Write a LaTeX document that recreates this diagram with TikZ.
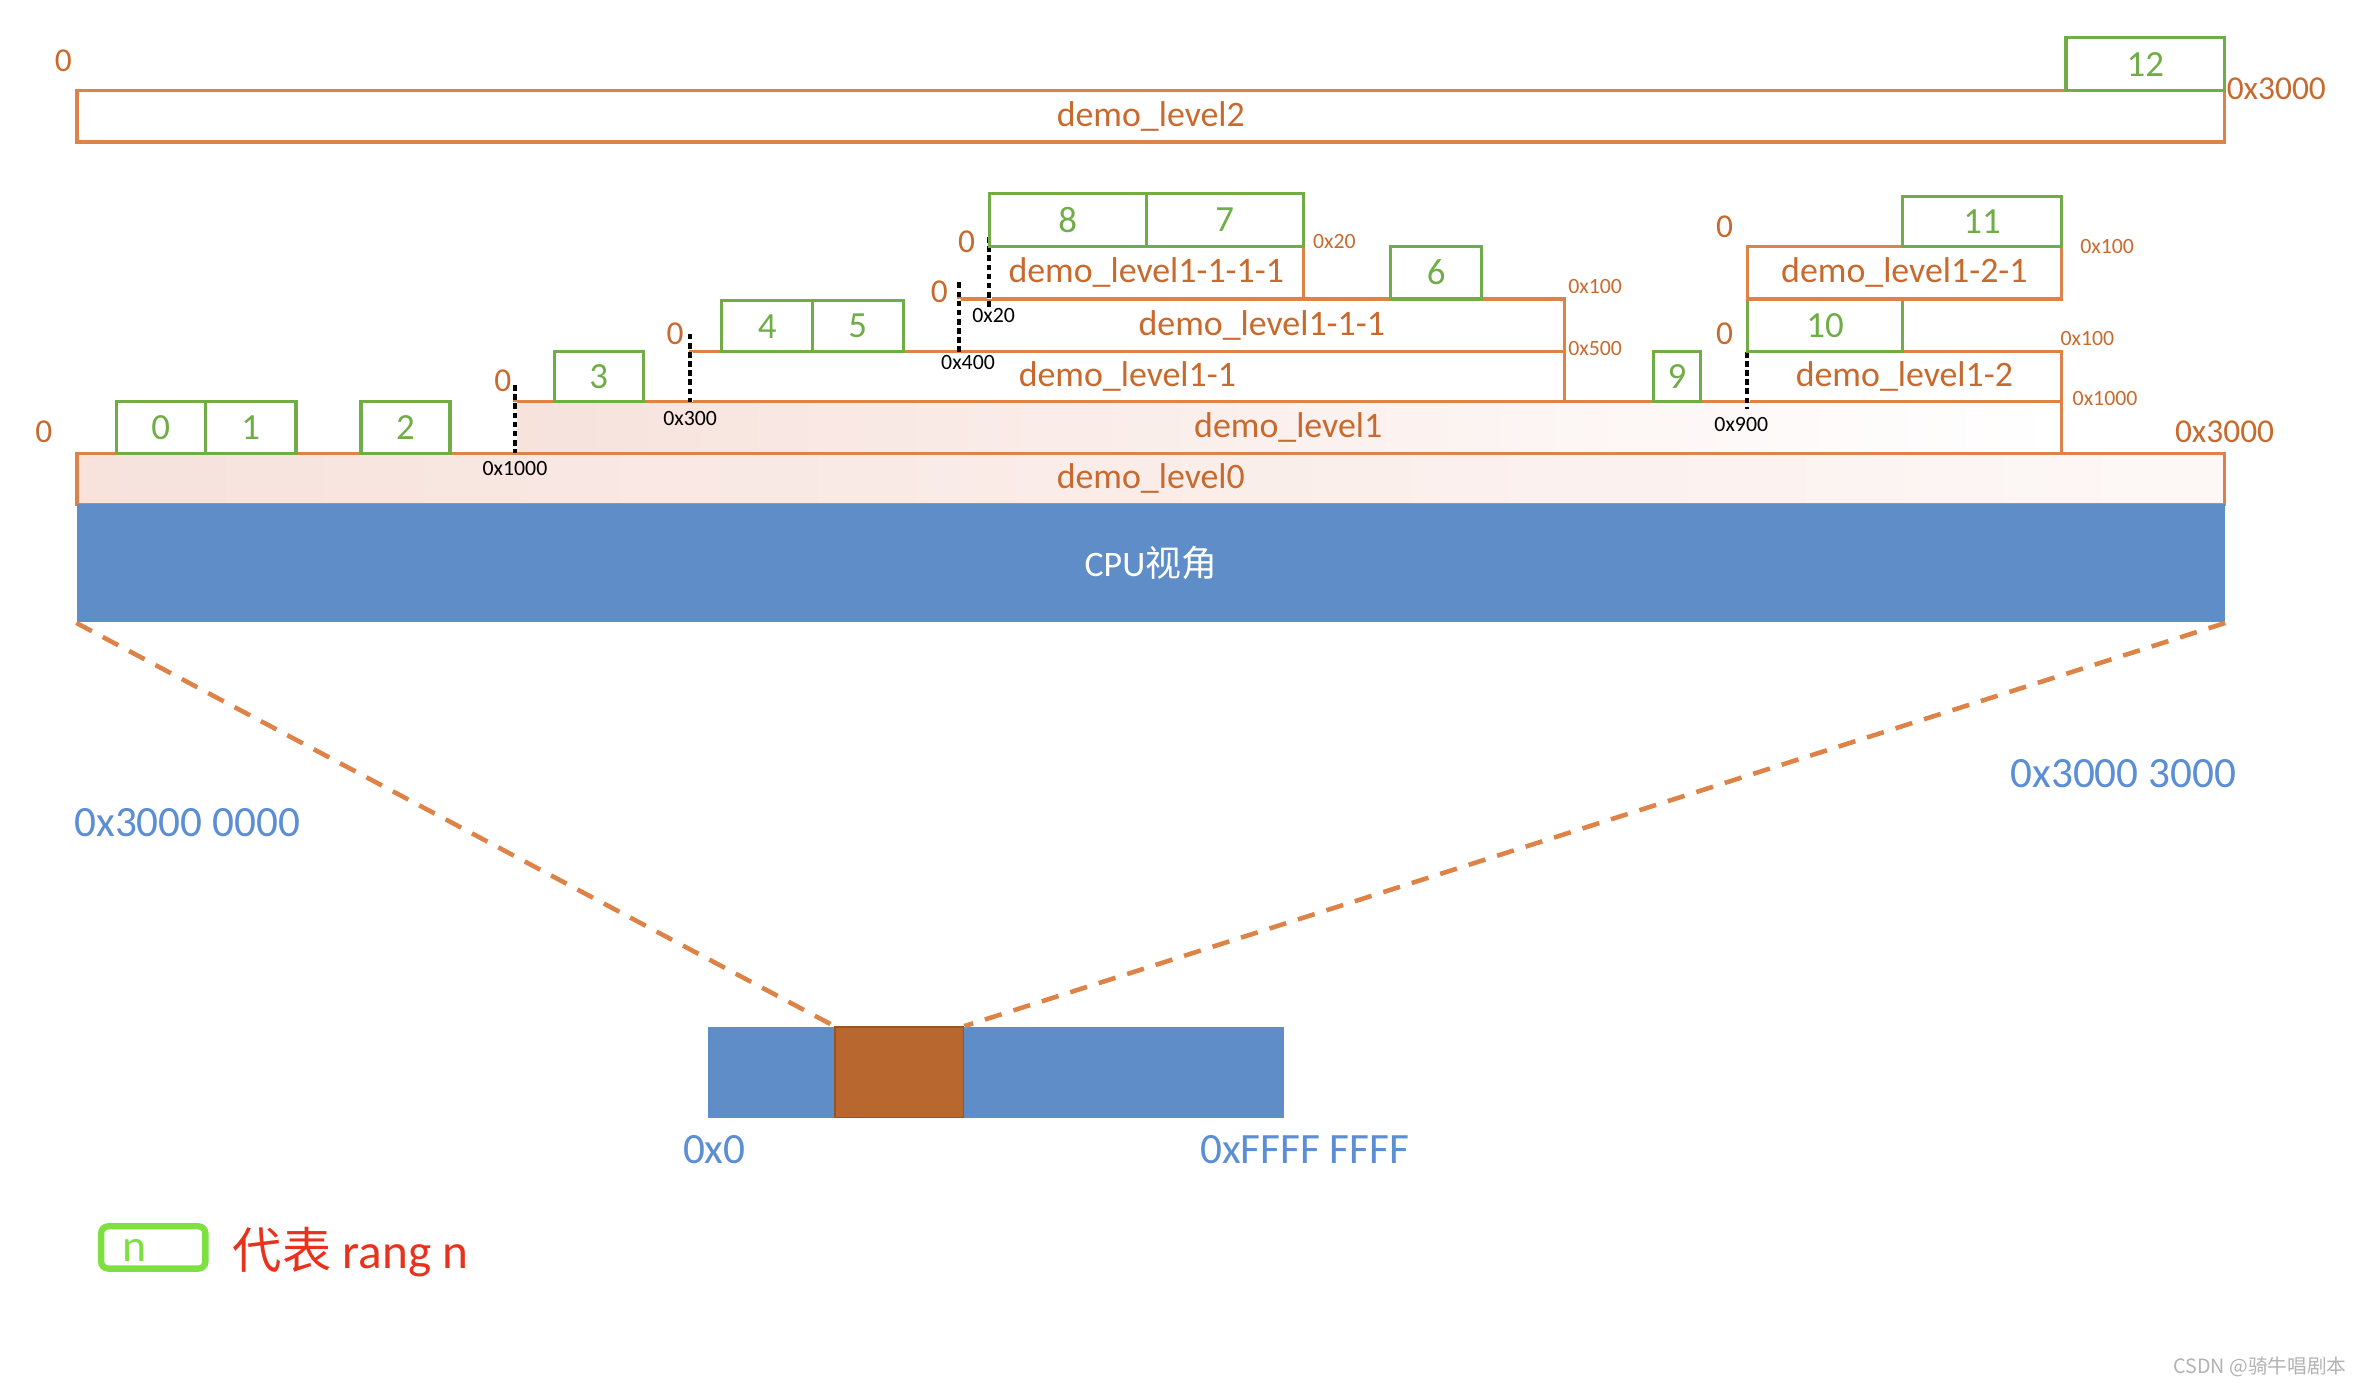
\documentclass[tikz,border=0pt]{standalone}
\usepackage{fontspec}
\setmainfont{Carlito}
\newfontfamily\cjkfont{Noto Sans CJK SC}
\usetikzlibrary{fit}

\definecolor{lvlline}{RGB}{222,131,72}
\definecolor{lvltext}{RGB}{200,105,45}
\definecolor{rnggreen}{RGB}{112,173,71}
\definecolor{cpublue}{RGB}{95,141,200}
\definecolor{addrblue}{RGB}{91,142,212}
\definecolor{blkbrown}{RGB}{184,104,47}
\definecolor{blkedge}{RGB}{150,85,40}
\definecolor{pinkfill}{RGB}{247,226,220}
\definecolor{keygreen}{RGB}{126,224,64}
\definecolor{keyred}{RGB}{232,50,30}

\begin{document}
\begin{tikzpicture}[x=0.15102mm,y=-0.15102mm,
    lvl/.style={draw=lvlline,line width=0.9pt,inner sep=0pt},
    lvlname/.style={text=lvltext,font=\fontsize{10.2}{12}\selectfont,inner sep=0pt},
    rng/.style={draw=rnggreen,line width=0.9pt,inner sep=0pt},
    rngname/.style={text=rnggreen,font=\fontsize{10.5}{12}\selectfont,inner sep=0pt},
    zero/.style={text=lvltext,font=\fontsize{9.5}{11}\selectfont,inner sep=0pt},
    endaddr/.style={text=lvltext,font=\fontsize{6.2}{7}\selectfont,inner sep=0pt},
    startaddr/.style={text=black,font=\fontsize{6.2}{7}\selectfont,inner sep=0pt},
    originbg/.style={white,line width=1.4pt},
    origin/.style={black,line width=1.1pt,dash pattern=on 1.6pt off 1pt},
    blueaddr/.style={text=addrblue,font=\fontsize{12.3}{14}\selectfont,inner sep=0pt},
    zoomline/.style={lvlline,line width=1.3pt,dash pattern=on 5pt off 3.5pt}]
    \useasboundingbox (0,0) rectangle (1568,918);

    % level 2
    \node[lvl,fit={(51,60) (1473,94)},label={[lvlname]center:demo\_level2}] (lv2) {};
    \node[rng,fit={(1368,25) (1473,60)},label={[rngname]center:12}] (r12) {};
    \node[zero] (lv2start) at (42,40) {0};
    \node[zero,anchor=west] (lv2end) at (1474,59) {0x3000};

    % level 0 and cpu
    \node[lvl,left color=pinkfill,right color=pinkfill!25,fit={(51,300) (1473,334)},label={[lvlname]center:demo\_level0}] (lv0) {};
    \node[fill=cpublue,inner sep=0pt,fit={(51,334) (1473,412)},label={[text=white,font=\fontsize{10.2}{12}\selectfont]center:CPU{\cjkfont 视角}}] (cpu) {};
    \node[zero] (lv0start) at (29,286) {0};
    \node[zero] (lv0end) at (1473,286) {0x3000};
    \node[rng,fit={(77,266) (136,300)},label={[rngname]center:0}] (r0) {};
    \node[rng,fit={(136,266) (196,300)},label={[rngname]center:1}] (r1) {};
    \node[rng,fit={(239,266) (298,300)},label={[rngname]center:2}] (r2) {};

    % level 1
    \node[lvl,left color=pinkfill,right color=white,fit={(341,266) (1365,300)},label={[lvlname]center:demo\_level1}] (lv1) {};
    \draw[originbg] (341,266) -- (341,300);
    \draw[origin] (341,255) -- (341,300);
    \node[zero] (lv1start) at (333,252) {0};
    \node[startaddr] (lv1base) at (341,310) {0x1000};
    \node[rng,fit={(367,233) (426,266)},label={[rngname]center:3}] (r3) {};
    \node[rng,fit={(1095,233) (1126,266)},label={[rngname]center:9}] (r9) {};

    % level 1-1
    \node[lvl,fit={(457,233) (1036,266)},label={[lvlname]center:demo\_level1-1}] (lv11) {};
    \draw[originbg] (457,233) -- (457,266);
    \draw[origin] (457,221) -- (457,266);
    \node[zero] (lv11start) at (447,221) {0};
    \node[startaddr] (lv11base) at (457,277) {0x300};
    \node[endaddr,anchor=west] (lv11end) at (1038,231) {0x500};
    \node[rng,fit={(478,199) (538,233)},label={[rngname]center:4}] (r4) {};
    \node[rng,fit={(538,199) (598,233)},label={[rngname]center:5}] (r5) {};

    % level 1-1-1
    \node[lvl,fit={(635,198) (1036,233)},label={[lvlname]center:demo\_level1-1-1}] (lv111) {};
    \draw[originbg] (635,198) -- (635,233);
    \draw[origin] (635,187) -- (635,233);
    \node[zero] (lv111start) at (622,193) {0};
    \node[startaddr] (lv111base) at (641,240) {0x400};
    \node[endaddr,anchor=west] (lv111end) at (1038,190) {0x100};
    \node[rng,fit={(921,163) (981,198)},label={[rngname]center:6}] (r6) {};

    % level 1-1-1-1
    \node[lvl,fit={(655,163) (863,198)},label={[lvlname]center:demo\_level1-1-1-1}] (lv1111) {};
    \draw[originbg] (655,163) -- (655,198);
    \draw[origin] (655,157) -- (655,203);
    \node[zero] (lv1111start) at (640,160) {0};
    \node[startaddr] (lv1111base) at (658,209) {0x20};
    \node[endaddr,anchor=west] (lv1111end) at (869,160) {0x20};
    \node[rng,fit={(655,128) (759,163)},label={[rngname]center:8}] (r8) {};
    \node[rng,fit={(759,128) (863,163)},label={[rngname]center:7}] (r7) {};

    % level 1-2
    \node[lvl,fit={(1157,233) (1365,266)},label={[lvlname]center:demo\_level1-2}] (lv12) {};
    \draw[originbg] (1157,233) -- (1157,266);
    \draw[origin] (1157,233) -- (1157,271);
    \node[zero] (lv12start) at (1142,221) {0};
    \node[startaddr] (lv12base) at (1153,281) {0x900};
    \node[endaddr,anchor=west] (lv12end) at (1364,224) {0x100};
    \node[endaddr,anchor=west] (lv1end) at (1372,264) {0x1000};
    \node[rng,fit={(1157,198) (1260,233)},label={[rngname]center:10}] (r10) {};

    % level 1-2-1
    \node[lvl,fit={(1157,163) (1365,198)},label={[lvlname]center:demo\_level1-2-1}] (lv121) {};
    \node[zero] (lv121start) at (1142,150) {0};
    \node[endaddr,anchor=west] (lv121end) at (1377,163) {0x100};
    \node[rng,fit={(1260,130) (1365,163)},label={[rngname]center:11}] (r11) {};

    % physical address space
    \node[fill=cpublue,inner sep=0pt,fit={(469,680) (850,740)}] (bus) {};
    \node[fill=blkbrown,draw=blkedge,line width=0.5pt,inner sep=0pt,fit={(553,680) (638,740)}] (blk) {};
    \draw[zoomline] (cpu.south west) -- (blk.north west);
    \draw[zoomline] (cpu.south east) -- (blk.north east);
    \node[blueaddr] (cpustart) at (124,545) {0x3000 0000};
    \node[blueaddr] (cpuend) at (1406,512) {0x3000 3000};
    \node[blueaddr] (busstart) at (473,761) {0x0};
    \node[blueaddr] (busend) at (864,761) {0xFFFF FFFF};

    % legend
    \node[draw=keygreen,line width=1.8pt,rounded corners=2pt,inner sep=0pt,fit={(67,812) (136,840)}] (key) {};
    \node[text=keygreen,font=\fontsize{13}{14}\selectfont] (keyn) at (89,828) {n};
    \node[anchor=west,text=keyred,font=\fontsize{14}{16}\selectfont] (keytext) at (146,829) {{\cjkfont 代表} rang n};

    \node[anchor=east,text=gray!60,font=\cjkfont\fontsize{5.6}{7}\selectfont] (mark) at (1562,905) {CSDN @骑牛唱剧本};
\end{tikzpicture}
\end{document}
